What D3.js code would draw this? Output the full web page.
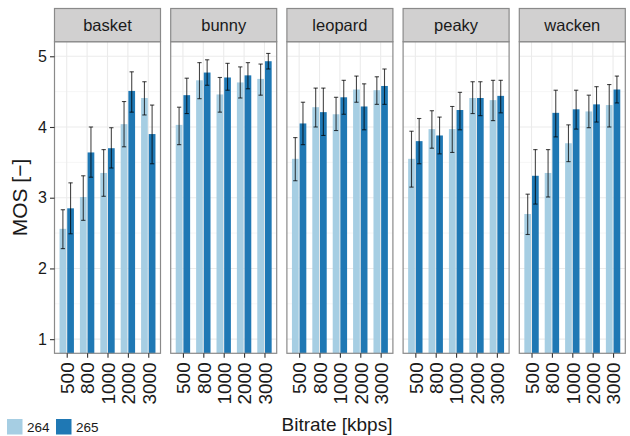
<!DOCTYPE html>
<html>
<head>
<meta charset="utf-8">
<script src="https://cdn.jsdelivr.net/npm/d3@7"></script>
<style>
  body { margin: 0; background: #fff; }
  text { font-family: "Liberation Sans", Arial, sans-serif; fill: #1a1a1a; }
</style>
</head>
<body>
<svg id="chart" width="630" height="436"></svg>
<script>
// facets, x categories, fill groups
const clips = ['basket', 'bunny', 'leopard', 'peaky', 'wacken'];
const bitrates = ['500', '800', '1000', '2000', '3000'];
const codecs = ['264', '265'];
const yTicks = [1, 2, 3, 4, 5];

// mean MOS per clip (rows) and bitrate (cols)
const mos264 = [
    [2.56, 3.01, 3.35, 4.04, 4.41],
    [4.03, 4.66, 4.46, 4.63, 4.68],
    [3.55, 4.28, 4.18, 4.53, 4.52],
    [3.55, 3.97, 3.97, 4.41, 4.38],
    [2.77, 3.35, 3.77, 4.22, 4.31]
];
const mos265 = [
    [2.85, 3.64, 3.70, 4.51, 3.90],
    [4.45, 4.77, 4.70, 4.73, 4.93],
    [4.05, 4.21, 4.42, 4.29, 4.58],
    [3.80, 3.88, 4.24, 4.41, 4.44],
    [3.31, 4.20, 4.25, 4.32, 4.53]
];
// confidence interval bounds
const lo264 = [
    [2.28, 2.68, 3.02, 3.72, 4.17],
    [3.75, 4.40, 4.21, 4.41, 4.45],
    [3.24, 4.00, 3.95, 4.35, 4.32],
    [3.15, 3.70, 3.64, 4.19, 4.09],
    [2.48, 3.01, 3.51, 3.99, 4.00]
];
const hi264 = [
    [2.83, 3.31, 3.68, 4.36, 4.64],
    [4.28, 4.91, 4.70, 4.85, 4.89],
    [3.85, 4.55, 4.42, 4.72, 4.71],
    [3.94, 4.23, 4.29, 4.64, 4.66],
    [3.05, 3.68, 4.03, 4.45, 4.60]
];
const lo265 = [
    [2.49, 3.29, 3.42, 4.21, 3.48],
    [4.19, 4.59, 4.52, 4.54, 4.82],
    [3.75, 3.88, 4.18, 3.96, 4.32],
    [3.48, 3.62, 3.96, 4.16, 4.20],
    [2.91, 3.86, 3.97, 4.07, 4.34]
];
const hi265 = [
    [3.21, 4.00, 3.99, 4.78, 4.31],
    [4.69, 4.95, 4.90, 4.91, 5.04],
    [4.35, 4.55, 4.66, 4.61, 4.82],
    [4.12, 4.14, 4.49, 4.64, 4.66],
    [3.68, 4.52, 4.52, 4.57, 4.72]
];

const colors = {'264': '#a6cee3', '265': '#1f78b4'};

const svg = d3.select('#chart');

// layout of the facet grid
const panelLeft = 54.5, panelW = 106, panelStep = 116.2;
const panelTop = 41.7, panelBottom = 353.3, stripTop = 8.5;

const y = d3.scaleLinear().domain([0.8, 5.206]).range([panelBottom, panelTop]);
const x = d3.scalePoint().domain(bitrates).range([0, panelW]).padding(0.6);
const step = x.step();
const dodge = d3.scaleBand().domain(codecs).range([-0.4 * step, 0.4 * step]).padding(0.125);
const minorTicks = d3.range(1.5, 5, 1);

clips.forEach((clip, ci) => {
    const px = panelLeft + ci * panelStep;
    const g = svg.append('g').attr('transform', 'translate(' + px + ',0)');

    // grid
    g.selectAll('.minor').data(minorTicks).enter().append('line')
        .attr('x1', 0).attr('x2', panelW)
        .attr('y1', (d) => y(d)).attr('y2', (d) => y(d))
        .attr('stroke', '#f4f4f4').attr('stroke-width', 0.8);
    g.selectAll('.major').data(yTicks).enter().append('line')
        .attr('x1', 0).attr('x2', panelW)
        .attr('y1', (d) => y(d)).attr('y2', (d) => y(d))
        .attr('stroke', '#ebebeb').attr('stroke-width', 1.1);
    g.selectAll('.vgrid').data(bitrates).enter().append('line')
        .attr('x1', (d) => x(d)).attr('x2', (d) => x(d))
        .attr('y1', panelTop).attr('y2', panelBottom)
        .attr('stroke', '#ebebeb').attr('stroke-width', 1.1);

    // bars + error bars
    const rows = [];
    bitrates.forEach((b, bi) => {
        rows.push({b, codec: '264', mos: mos264[ci][bi], lo: lo264[ci][bi], hi: hi264[ci][bi]});
        rows.push({b, codec: '265', mos: mos265[ci][bi], lo: lo265[ci][bi], hi: hi265[ci][bi]});
    });
    const bw = dodge.bandwidth();
    g.selectAll('.bar').data(rows).enter().append('rect')
        .attr('x', (d) => x(d.b) + dodge(d.codec))
        .attr('width', bw)
        .attr('y', (d) => y(d.mos))
        .attr('height', (d) => panelBottom - y(d.mos))
        .attr('fill', (d) => colors[d.codec]);

    const cap = bw * 0.32;
    const err = g.selectAll('.err').data(rows).enter().append('g')
        .attr('stroke', '#000').attr('stroke-opacity', 0.72).attr('stroke-width', 1.1)
        .attr('transform', (d) => 'translate(' + (x(d.b) + dodge(d.codec) + bw / 2) + ',0)');
    err.append('line').attr('x1', 0).attr('x2', 0)
        .attr('y1', (d) => y(d.lo)).attr('y2', (d) => y(d.hi));
    err.append('line').attr('x1', -cap).attr('x2', cap)
        .attr('y1', (d) => y(d.lo)).attr('y2', (d) => y(d.lo));
    err.append('line').attr('x1', -cap).attr('x2', cap)
        .attr('y1', (d) => y(d.hi)).attr('y2', (d) => y(d.hi));

    // panel border
    g.append('rect').attr('x', 0).attr('y', panelTop).attr('width', panelW)
        .attr('height', panelBottom - panelTop)
        .attr('fill', 'none').attr('stroke', '#8a8a8a').attr('stroke-width', 1.2);

    // strip
    g.append('rect').attr('x', 0).attr('y', stripTop).attr('width', panelW)
        .attr('height', panelTop - stripTop)
        .attr('fill', '#d1d0d0').attr('stroke', '#8a8a8a').attr('stroke-width', 1.2);
    g.append('text').attr('x', panelW / 2).attr('y', (stripTop + panelTop) / 2)
        .attr('dy', '0.36em').attr('text-anchor', 'middle')
        .attr('font-size', 16.5).text(clip);

    // x axis
    const xa = g.append('g').attr('transform', 'translate(0,' + panelBottom + ')')
        .call(d3.axisBottom(x).tickSize(4.5).tickPadding(2));
    xa.select('.domain').remove();
    xa.selectAll('.tick line').attr('stroke', '#333').attr('stroke-width', 1.1);
    xa.selectAll('.tick text')
        .attr('font-size', 19).attr('fill', '#1a1a1a')
        .attr('font-family', '"Liberation Sans", Arial, sans-serif')
        .attr('text-anchor', 'end')
        .attr('transform', 'rotate(-90)')
        .attr('x', -9).attr('y', 0).attr('dy', '0.36em');
});

// y axis
const ya = svg.append('g').attr('transform', 'translate(' + panelLeft + ',0)')
    .call(d3.axisLeft(y).tickValues(yTicks).tickFormat(d3.format('d')).tickSize(4.5).tickPadding(3));
ya.select('.domain').remove();
ya.selectAll('.tick line').attr('stroke', '#333').attr('stroke-width', 1.1);
ya.selectAll('.tick text').attr('font-size', 16).attr('fill', '#1a1a1a')
    .attr('font-family', '"Liberation Sans", Arial, sans-serif');

// axis titles
svg.append('text')
    .attr('transform', 'translate(19,' + (panelTop + panelBottom) / 2 + ') rotate(-90)')
    .attr('dy', '0.36em')
    .attr('text-anchor', 'middle').attr('font-size', 21).text('MOS [\u2212]');
svg.append('text').attr('x', 337).attr('y', 431)
    .attr('text-anchor', 'middle').attr('font-size', 19).text('Bitrate [kbps]');

// legend
const leg = svg.append('g').attr('transform', 'translate(7,419)');
const items = leg.selectAll('.item').data(codecs).enter().append('g')
    .attr('transform', (d, i) => 'translate(' + (i * 49) + ',0)');
items.append('rect').attr('width', 15.5).attr('height', 15.5)
    .attr('fill', (d) => colors[d]);
items.append('text').attr('x', 20).attr('y', 8).attr('dy', '0.36em')
    .attr('font-size', 13.5).text((d) => d);
</script>
</body>
</html>
